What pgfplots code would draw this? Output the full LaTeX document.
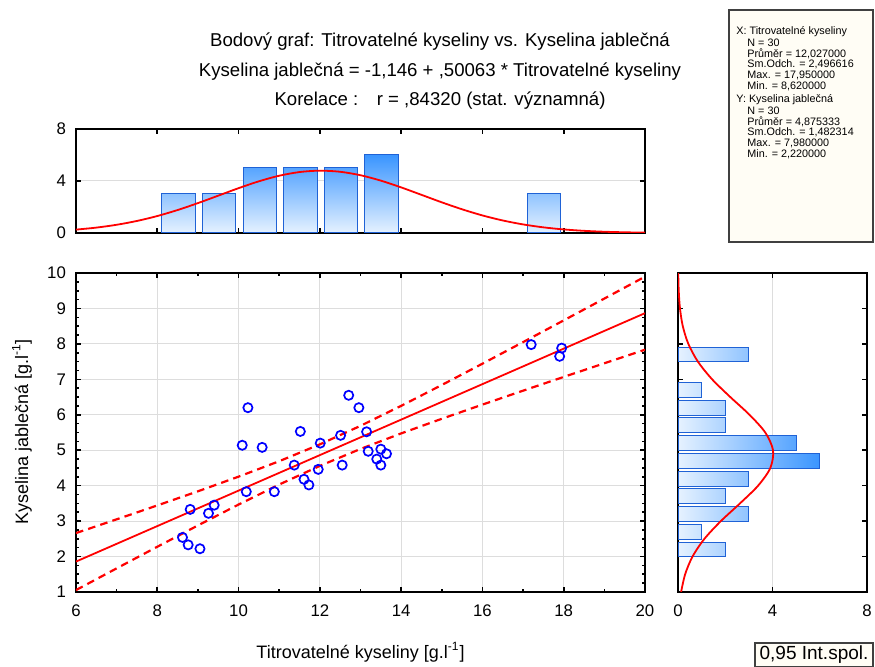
\documentclass[border=0pt]{standalone}
\usepackage{pgfplots}
\pgfplotsset{compat=1.18}
\usepackage{fontspec}
\setmainfont{Liberation Sans}

\definecolor{barHi}{HTML}{3A95FF}
\definecolor{barLo}{HTML}{E6F2FF}
\definecolor{barEdge}{HTML}{1F62D6}
\definecolor{boxFill}{HTML}{FFFDF5}
\definecolor{gridGray}{HTML}{DDDDDD}

\newcommand{\tickfont}{\fontsize{8.4}{10}\selectfont}
\newcommand{\labfont}{\fontsize{9}{10}\selectfont}
\newcommand{\titfont}{\fontsize{9.3}{11}\selectfont}
\newcommand{\statfont}{\fontsize{5.4}{6}\selectfont}

\pgfplotsset{
  statbase/.style={
    scale only axis,
    anchor=south west,
    axis line style={line width=1pt},
    tick align=inside,
    major tick length=2.6pt,
    minor tick length=1.6pt,
    tick style={black, line width=0.8pt},
    grid style={gridGray, line width=0.5pt},
    /pgf/number format/assume math mode=true,
    ticklabel style={font=\tickfont},
    xticklabel style={yshift=-3pt},
    yticklabel style={xshift=-1.5pt},
  },
  hbar/.style={ybar, bar shift=0pt, bar width=0.82, draw=barEdge, line width=0.5pt},
  vbar/.style={xbar, bar shift=0pt, bar width=0.42, draw=barEdge, line width=0.5pt},
}

\begin{document}
\begin{tikzpicture}
\path[use as bounding box] (0,0) rectangle (437.5pt,-333.5pt);

% titles
\node[font=\titfont] at (220pt,-21pt) {Bodový graf: Titrovatelné kyseliny vs. Kyselina jablečná};
\node[font=\titfont] at (220pt,-36pt) {Kyselina jablečná = -1,146 + ,50063 * Titrovatelné kyseliny};
\node[font=\titfont] at (220pt,-50.5pt) {Korelace :\quad r = ,84320 (stat. významná)};

% top histogram (x)
\begin{axis}[statbase, at={(38pt,-116.5pt)}, width=284.5pt, height=52pt,
  xmin=6, xmax=20, ymin=0, ymax=8,
  xtick={6,8,...,20}, xticklabels={}, ytick={0,4,8}, ymajorgrids]
  \addplot[hbar, top color=barHi!50!barLo, bottom color=barLo] coordinates {(8.52,3) (9.52,3) (17.52,3)};
  \addplot[hbar, top color=barHi!83!barLo, bottom color=barLo] coordinates {(10.52,5) (11.52,5) (12.52,5)};
  \addplot[hbar, top color=barHi, bottom color=barLo] coordinates {(13.52,6)};
  \addplot[red, line width=0.9pt, smooth] coordinates {
    (6,0.260) (6.5,0.414) (7,0.632) (7.5,0.926) (8,1.305) (8.5,1.767) (9,2.299)
    (9.5,2.872) (10,3.448) (10.5,3.976) (11,4.405) (11.5,4.688) (12,4.794)
    (12.5,4.709) (13,4.443) (13.5,4.028) (14,3.508) (14.5,2.935) (15,2.359)
    (15.5,1.822) (16,1.351) (16.5,0.963) (17,0.659) (17.5,0.434) (18,0.274)
    (18.5,0.166) (19,0.097) (19.5,0.054) (20,0.029)};
\end{axis}

% main scatter
\begin{axis}[statbase, at={(38pt,-296pt)}, width=284.5pt, height=159.5pt,
  xmin=6, xmax=20, ymin=1, ymax=10,
  xtick={6,8,...,20}, ytick={1,...,10},
  minor x tick num=1, minor y tick num=3, grid=major]
  % regression line
  \addplot[red, line width=0.9pt] coordinates {(6,1.858) (20,8.867)};
  % 0.95 confidence band
  \addplot[red, line width=1.1pt, dash pattern=on 3.8pt off 2.6pt] coordinates {
    (6,2.662) (7,3.050) (8,3.442) (9,3.841) (10,4.254) (11,4.690) (12,5.165)
    (13,5.688) (14,6.252) (15,6.840) (16,7.441) (17,8.050) (18,8.663) (19,9.279) (20,9.897)};
  \addplot[red, line width=1.1pt, dash pattern=on 3.8pt off 2.6pt] coordinates {
    (6,1.054) (7,1.667) (8,2.276) (9,2.878) (10,3.467) (11,4.032) (12,4.558)
    (13,5.036) (14,5.474) (15,5.887) (16,6.287) (17,6.680) (18,7.068) (19,7.453) (20,7.836)};
  % observations
  \addplot[only marks, mark=o, mark size=2.3pt, blue, mark options={line width=0.85pt}] coordinates {
    (8.81,3.33) (8.62,2.54) (8.76,2.33) (9.05,2.22) (9.26,3.22) (9.40,3.45)
    (10.09,5.14) (10.23,6.20) (10.19,3.83) (10.58,5.08) (10.88,3.83)
    (11.37,4.58) (11.52,5.53) (11.61,4.18) (11.73,4.02) (11.96,4.46)
    (12.01,5.20) (12.51,5.42) (12.55,4.58) (12.71,6.55) (12.96,6.20)
    (13.15,5.52) (13.19,4.97) (13.40,4.75) (13.50,5.03) (13.50,4.58) (13.64,4.90)
    (17.20,7.98) (17.95,7.88) (17.90,7.65)};
\end{axis}

% right histogram (y)
\begin{axis}[statbase, at={(339pt,-296pt)}, width=94.5pt, height=159.5pt,
  xmin=0, xmax=8, ymin=1, ymax=10,
  xtick={0,4,8}, ytick={2,...,9}, yticklabels={}, xmajorgrids]
  \addplot[vbar, left color=barLo, right color=barHi!17!barLo] coordinates {(1,2.70) (1,6.70)};
  \addplot[vbar, left color=barLo, right color=barHi!33!barLo] coordinates {(2,2.20) (2,3.70) (2,5.70) (2,6.20)};
  \addplot[vbar, left color=barLo, right color=barHi!50!barLo] coordinates {(3,3.20) (3,4.20) (3,7.70)};
  \addplot[vbar, left color=barLo, right color=barHi!83!barLo] coordinates {(5,5.20)};
  \addplot[vbar, left color=barLo, right color=barHi] coordinates {(6,4.70)};
  \addplot[red, line width=0.9pt, smooth] coordinates {
    (0.132,1) (0.302,1.5) (0.615,2) (1.118,2.5) (1.814,3) (2.625,3.5) (3.391,4)
    (3.910,4.5) (4.023,5) (3.694,5.5) (3.027,6) (2.214,6.5) (1.445,7) (0.842,7.5)
    (0.438,8) (0.203,8.5) (0.084,9) (0.031,9.5) (0.010,10)};
\end{axis}

% axis labels
\node[font=\labfont] at (180.25pt,-326pt) {Titrovatelné kyseliny [g.l\textsuperscript{-1}]};
\node[font=\labfont, rotate=90] at (11pt,-216pt) {Kyselina jablečná [g.l\textsuperscript{-1}]};

% statistics box
\draw[fill=boxFill, draw=black!75, line width=0.6pt] (364.5pt,-5pt) rectangle (436.5pt,-121pt);
\begin{scope}[every node/.style={anchor=west, inner sep=0pt, font=\statfont}]
  \node at (368pt,-16pt) {X: Titrovatelné kyseliny};
  \node at (373.5pt,-21.4pt) {N = 30};
  \node at (373.5pt,-26.8pt) {Průměr = 12,027000};
  \node at (373.5pt,-32.2pt) {Sm.Odch. = 2,496616};
  \node at (373.5pt,-37.6pt) {Max. = 17,950000};
  \node at (373.5pt,-43pt) {Min. = 8,620000};
  \node at (368pt,-50pt) {Y: Kyselina jablečná};
  \node at (373.5pt,-55.4pt) {N = 30};
  \node at (373.5pt,-60.8pt) {Průměr = 4,875333};
  \node at (373.5pt,-66.2pt) {Sm.Odch. = 1,482314};
  \node at (373.5pt,-71.6pt) {Max. = 7,980000};
  \node at (373.5pt,-77pt) {Min. = 2,220000};
\end{scope}

% legend box
\draw[fill=boxFill, draw=black!75, line width=0.6pt] (377.5pt,-321.5pt) rectangle (436.5pt,-333.2pt);
\node[font=\fontsize{9.5}{10}\selectfont] at (407pt,-327.4pt) {0,95 Int.spol.};
\end{tikzpicture}
\end{document}
